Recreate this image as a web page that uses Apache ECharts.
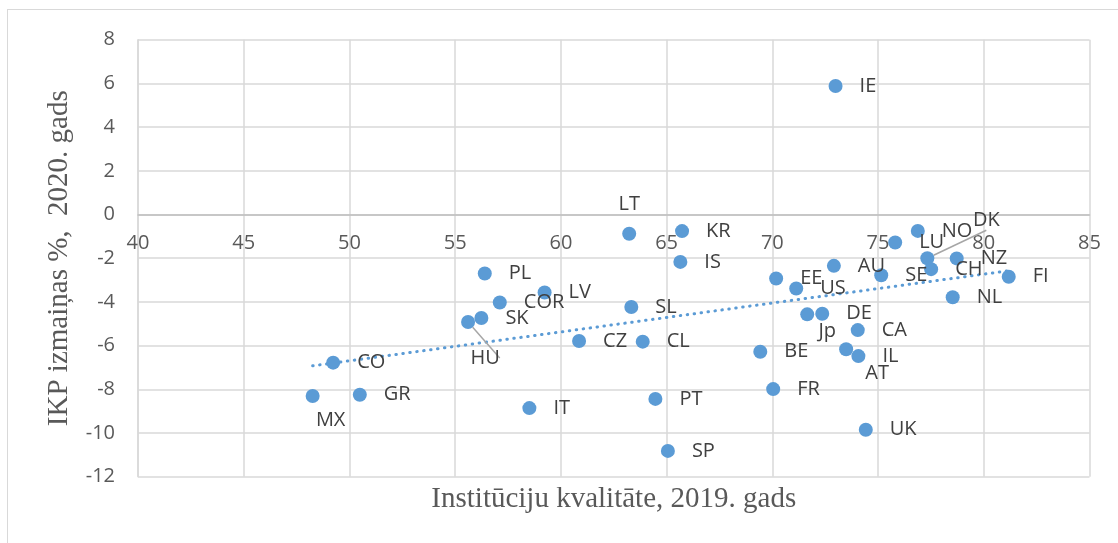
<!DOCTYPE html>
<html>
<head>
<meta charset="utf-8">
<script src="https://cdn.jsdelivr.net/npm/echarts@6/dist/echarts.min.js"></script>
<style>
  html, body { margin: 0; padding: 0; background: #fff; }
  #wrap { position: relative; width: 1118px; height: 543px; overflow: hidden; }
  #frame { position: absolute; left: 7px; top: 9px; width: 1130px; height: 560px;
           border-top: 1.5px solid #d9d9d9; border-left: 1.5px solid #d9d9d9; }
  #main { position: absolute; left: 0; top: 0; width: 1118px; height: 543px; }
</style>
</head>
<body>
<div id="wrap">
  <div id="frame"></div>
  <div id="main"></div>
</div>
<script>
// valstis un vērtības nolasītas no attēla
var countries = ['IE', 'LT', 'KR', 'IS', 'PL', 'LV', 'COR', 'SL', 'SK', 'HU', 'CO', 'CZ', 'CL',
  'MX', 'GR', 'IT', 'PT', 'SP', 'EE', 'AU', 'US', 'SE', 'LU', 'NO', 'DK', 'CH', 'NZ', 'FI',
  'NL', 'DE', 'Jp', 'CA', 'IL', 'AT', 'BE', 'FR', 'UK']
var instQuality = [72.99, 63.23, 65.73, 65.65, 56.40, 59.23, 57.11, 63.33, 56.24, 55.61, 49.23, 60.86, 63.87,
  48.26, 50.49, 58.51, 64.47, 65.06, 70.18, 72.91, 71.13, 75.15, 75.81, 76.88, 77.33, 77.51, 78.72, 81.18,
  78.53, 72.36, 71.65, 74.04, 74.07, 73.49, 69.43, 70.04, 74.42]
var gdpChange = [5.88, -0.88, -0.76, -2.17, -2.70, -3.57, -4.03, -4.23, -4.74, -4.92, -6.78, -5.79, -5.82,
  -8.31, -8.25, -8.86, -8.44, -10.82, -2.93, -2.35, -3.39, -2.78, -1.28, -0.75, -2.00, -2.50, -2.01, -2.85,
  -3.79, -4.54, -4.57, -5.29, -6.48, -6.17, -6.28, -7.99, -9.85]
var xTicks = [40, 45, 50, 55, 60, 65, 70, 75, 80, 85]
var yTicks = [-12, -10, -8, -6, -4, -2, 0, 2, 4, 6, 8]

// etiķetes, kas attēlā pārvietotas no noklusētās vietas
var movedLabels = {
  LT: { offset: [0, -29] },
  MX: { offset: [18, 24] },
  HU: { offset: [17, 36], line: true },
  Jp: { offset: [20, 17] },
  AT: { offset: [31, 24] },
  DK: { offset: [59, -38], line: true }
}

var blue = '#5b9bd5'
var labelFont = 'Open Sans'

var points = countries.map(function (c, i) {
  var item = { name: c, value: [instQuality[i], gdpChange[i]] }
  var m = movedLabels[c]
  if (m) {
    item.label = { position: 'inside', offset: m.offset }
    if (m.line) {
      item.labelLine = { show: true, lineStyle: { color: '#a6a6a6', width: 1.5 } }
    }
  }
  return item
})

// lineārā tendence (mazāko kvadrātu metode)
var n = instQuality.length
var sx = 0, sy = 0, sxx = 0, sxy = 0
for (var i = 0; i < n; i++) {
  sx += instQuality[i]; sy += gdpChange[i]
  sxx += instQuality[i] * instQuality[i]; sxy += instQuality[i] * gdpChange[i]
}
var slope = (n * sxy - sx * sy) / (n * sxx - sx * sx)
var icpt = (sy - slope * sx) / n
var xMin = Math.min.apply(null, instQuality)
var xMax = Math.max.apply(null, instQuality)
var trend = [[xMin, icpt + slope * xMin], [xMax, icpt + slope * xMax]]

// x ass atrodas pie y = 0, tāpēc to pabīda uz augšu no apakšas
var grid = { left: 138, right: 28.5, top: 39.7, bottom: 66.3 }
var plotH = 543 - grid.top - grid.bottom
var yMin = yTicks[0], yMax = yTicks[yTicks.length - 1]
var zeroShift = -plotH * (0 - yMin) / (yMax - yMin)

var chart = echarts.init(document.getElementById('main'))
chart.setOption({
  animation: false,
  grid: Object.assign({ containLabel: false, outerBoundsMode: 'none' }, grid),
  xAxis: {
    type: 'value',
    min: xTicks[0],
    max: xTicks[xTicks.length - 1],
    interval: 5,
    position: 'bottom',
    offset: zeroShift,
    name: 'Institūciju kvalitāte, 2019. gads',
    nameLocation: 'middle',
    nameGap: 270,
    nameTextStyle: { fontFamily: 'Liberation Serif', fontSize: 29, color: '#595959' },
    axisLine: { onZero: false, lineStyle: { color: '#bfbfbf', width: 1.5 } },
    axisTick: { show: false },
    axisLabel: { margin: 19, fontFamily: labelFont, fontSize: 20, color: '#595959' },
    splitLine: { show: true, lineStyle: { color: '#d9d9d9', width: 1.5 } }
  },
  yAxis: {
    type: 'value',
    min: yMin,
    max: yMax,
    interval: 2,
    name: 'IKP izmaiņas %,  2020. gads',
    nameLocation: 'middle',
    nameRotate: 90,
    nameGap: 64,
    nameTextStyle: { fontFamily: 'Liberation Serif', fontSize: 29, color: '#595959' },
    axisLine: { show: true, onZero: false, lineStyle: { color: '#d9d9d9', width: 1.5 } },
    axisTick: { show: false },
    axisLabel: { margin: 23, fontFamily: labelFont, fontSize: 20, color: '#595959' },
    splitLine: { show: true, lineStyle: { color: '#d9d9d9', width: 1.5 } }
  },
  series: [
    {
      type: 'line',
      data: trend,
      symbol: 'none',
      silent: true,
      lineStyle: { color: blue, width: 3, type: [0.5, 6.5], cap: 'round' },
      z: 1
    },
    {
      type: 'scatter',
      data: points,
      symbolSize: 14,
      itemStyle: { color: blue, opacity: 1 },
      label: {
        show: true,
        position: 'right',
        distance: 17,
        formatter: '{b}',
        fontFamily: labelFont,
        fontSize: 20,
        color: '#404040'
      },
      z: 2
    }
  ]
})
</script>
</body>
</html>
